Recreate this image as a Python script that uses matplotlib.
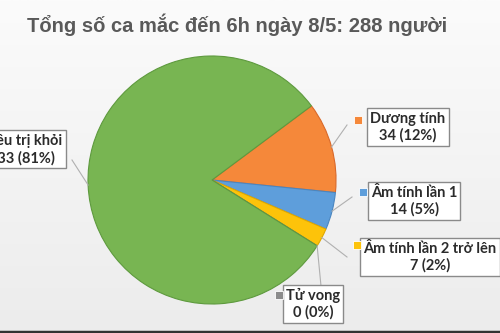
import numpy as np
import matplotlib
matplotlib.use("Agg")
import matplotlib.pyplot as plt

# dữ liệu
tieu_de = "Tổng số ca mắc đến 6h ngày 8/5: 288 người"
nhom = ["Dương tính", "Âm tính lần 1", "Âm tính lần 2 trở lên", "Tử vong", "Điều trị khỏi"]
so_ca = [34, 14, 7, 0, 233]
mau = ["#F5883A", "#5E9EDB", "#FDC30A", "#8C8C8C", "#78B552"]
vien = ["#D9692A", "#4A86C0", "#E0A800", "#707070", "#5E9A3E"]

W, H = 500, 333
fig = plt.figure(figsize=(W / 100, H / 100), dpi=100)
ax = fig.add_axes([0, 0, 1, 1])

# nền xám nhạt
nen = np.linspace(0, 1, 256).reshape(-1, 1)
ax.imshow(nen, extent=[0, W, 0, H], cmap=matplotlib.colors.LinearSegmentedColormap.from_list(
    "n", ["#ececec", "#fbfbfb"]), aspect="auto", zorder=0, origin="lower")

tam = (212, H - 180)
r = 124
tach = [0.04, 0.04, 0.04, 0.04, 0]
wedges, _ = ax.pie(so_ca, colors=mau, startangle=36.7, counterclock=False, radius=r,
                   center=tam, explode=tach,
                   wedgeprops=dict(linewidth=0.8, zorder=2))
for w, c in zip(wedges, vien):
    w.set_edgecolor(c)
    w.set_zorder(2)

# vị trí nhãn (pixel, gốc trên-trái)
hop = [(408, 127), (414, 201), (430, 257), (313, 304), (22, 149)]
dau_day = [(347, 125), (352, 197), (347, 257), (321, 286), (72, 160)]
o_mau = [(358, 120), (363, 192), (357, 245), (279, 295), None]

tong = sum(so_ca)
for i, w in enumerate(wedges):
    goc = np.deg2rad((w.theta1 + w.theta2) / 2)
    cx, cy = w.center
    x0 = cx + r * np.cos(goc)
    y0 = cy + r * np.sin(goc)
    x1, y1 = dau_day[i]
    ax.plot([x0, x1], [y0, H - y1], color="#b0b0b0", lw=0.8, zorder=3)
    pct = round(100 * so_ca[i] / tong)
    ax.text(hop[i][0], H - hop[i][1], f"{nhom[i]}\n{so_ca[i]} ({pct}%)",
            ha="center", va="center", fontsize=10.5, fontweight="bold",
            family=["Lato", "DejaVu Sans"], color="#2b2b2b", linespacing=1.2,
            bbox=dict(boxstyle="square,pad=0.22", fc="white", ec="#8a8a8a", lw=1),
            zorder=4)
    if o_mau[i] is not None:
        ax.plot(o_mau[i][0], H - o_mau[i][1], marker="s", ms=6, mfc=mau[i],
                mec="white", mew=0.6, zorder=4)

ax.text(237, H - 25, tieu_de, ha="center", va="center", fontsize=14.5,
        fontweight="bold", family=["Liberation Sans", "DejaVu Sans"], color="#595959")

ax.plot([0, W], [1, 1], color="#333333", lw=2.5, zorder=5)
ax.set_xlim(0, W)
ax.set_ylim(0, H)
ax.set_aspect("equal")
ax.axis("off")
fig.savefig("out.png", dpi=100)
